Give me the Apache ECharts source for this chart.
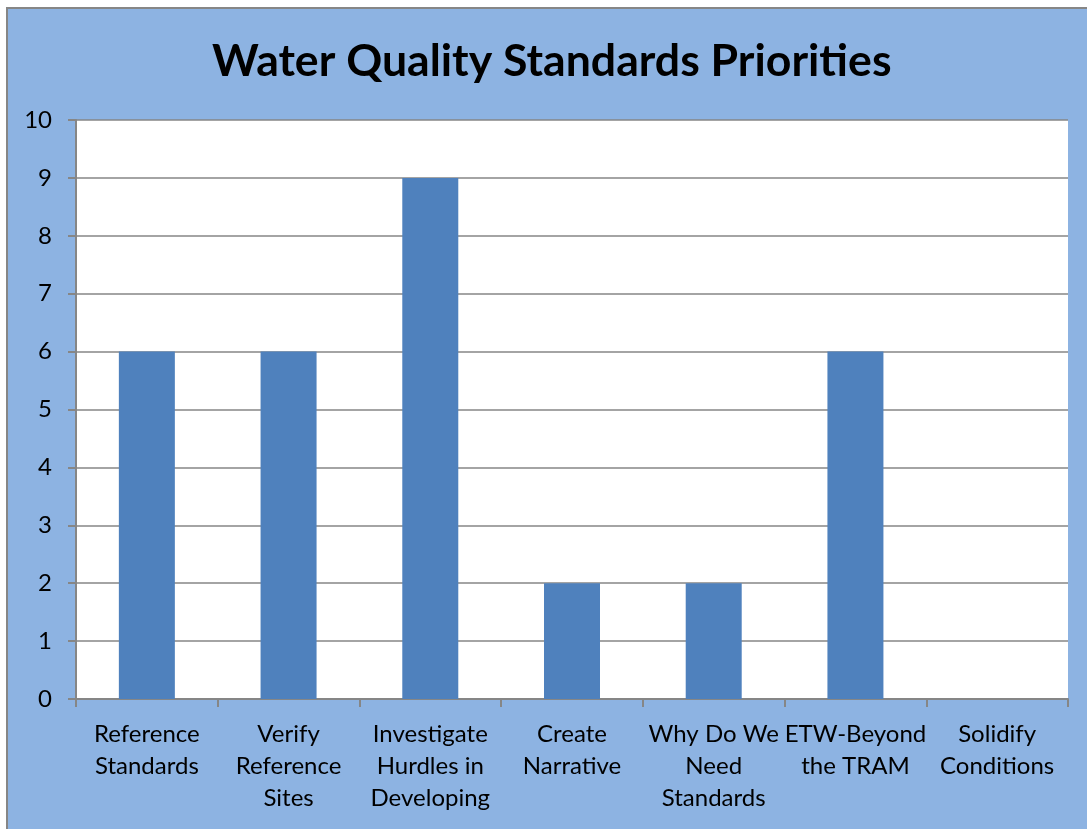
<!DOCTYPE html>
<html>
<head>
<meta charset="utf-8">
<script src="https://cdn.jsdelivr.net/npm/echarts@6/dist/echarts.min.js"></script>
<style>
  html, body { margin: 0; padding: 0; background: #fff; }
  #chart { width: 1087px; height: 829px; }
</style>
</head>
<body>
<div id="chart"></div>
<script>
var myChart = echarts.init(document.getElementById('chart'));

// categories and values
var categories = [
	'Reference\nStandards',
	'Verify\nReference\nSites',
	'Investigate\nHurdles in\nDeveloping',
	'Create\nNarrative',
	'Why Do We\nNeed\nStandards',
	'ETW-Beyond\nthe TRAM',
	'Solidify\nConditions'
];
var values = [6, 6, 9, 2, 2, 6, 0];

var fontName = 'Lato';

var option = {
	backgroundColor: '#fff',
	animation: false,
	graphic: [{
		type: 'rect',
		z: -10,
		shape: { x: 7, y: 8, width: 1200, height: 900 },
		style: { fill: '#8DB3E2', stroke: '#868686', lineWidth: 2 }
	}],
	title: {
		text: 'Water Quality Standards Priorities',
		left: 207,
		top: 34,
		textStyle: {
			fontFamily: fontName,
			fontWeight: 'bold',
			fontSize: 44.6,
			color: '#000'
		}
	},
	grid: {
		show: true,
		backgroundColor: '#fff',
		borderWidth: 0,
		left: 76,
		right: 19,
		top: 120,
		bottom: 130
	},
	xAxis: {
		type: 'category',
		data: categories,
		axisLine: { lineStyle: { color: '#868686', width: 2 } },
		axisTick: { show: true, length: 8, lineStyle: { color: '#868686', width: 2 } },
		axisLabel: {
			interval: 0,
			margin: 19,
			color: '#000',
			fontFamily: fontName,
			fontSize: 24,
			lineHeight: 32
		}
	},
	yAxis: {
		type: 'value',
		min: 0,
		max: 10,
		interval: 1,
		axisLine: { show: true, lineStyle: { color: '#868686', width: 2 } },
		axisTick: { show: true, length: 8, lineStyle: { color: '#868686', width: 2 } },
		splitLine: { lineStyle: { color: '#868686', width: 1.5 } },
		axisLabel: {
			margin: 24,
			color: '#000',
			fontFamily: fontName,
			fontSize: 24
		}
	},
	series: [{
		type: 'bar',
		data: values,
		barWidth: 56,
		itemStyle: { color: '#4F81BD' }
	}]
};
myChart.setOption(option);
</script>
</body>
</html>
